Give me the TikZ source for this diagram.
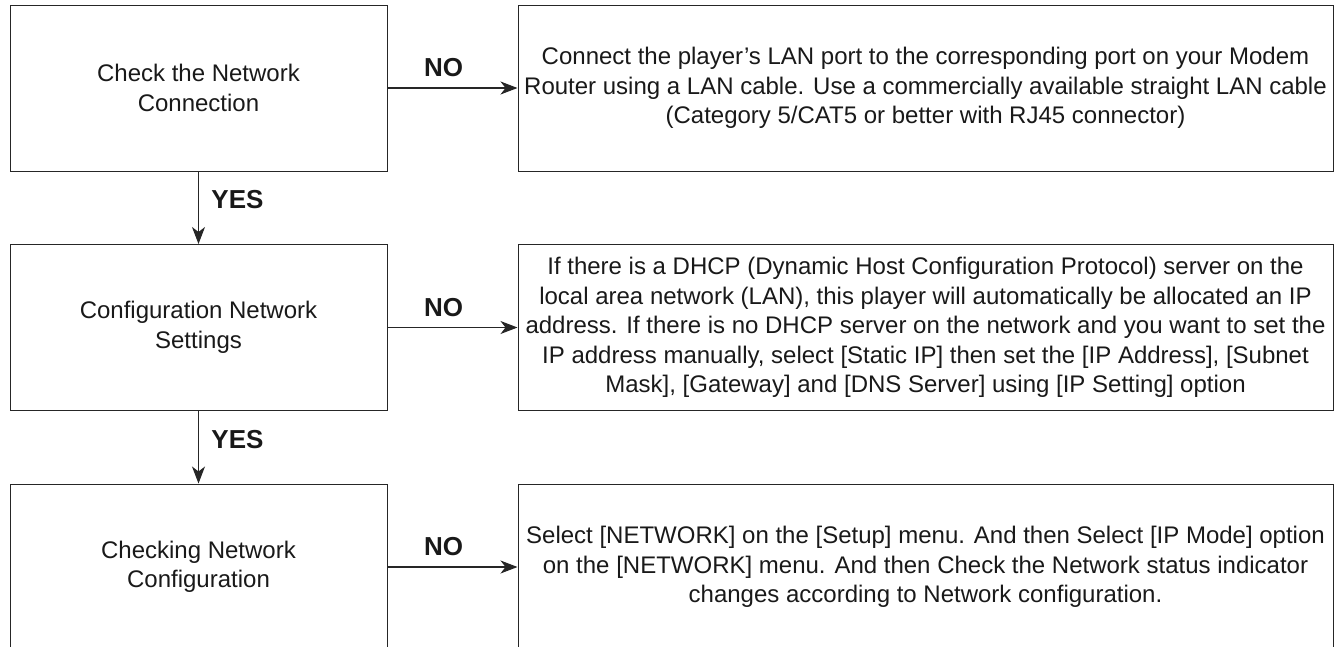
\documentclass[tikz,border=0pt]{standalone}
\usepackage{fontspec}
\setmainfont{Liberation Sans}
\usetikzlibrary{positioning,arrows.meta}

\begin{document}
\begin{tikzpicture}[
    x=1pt, y=-1pt,
    node distance=72.5pt and 130pt,
    stepbox/.style={
        draw=black!85,
        line width=1pt,
        minimum width=377pt,
        minimum height=166pt,
        inner sep=0pt,
        align=center,
        text=black!90,
        font=\fontsize{24}{29.5}\selectfont
    },
    actionbox/.style={stepbox, minimum width=815pt},
    answer/.style={text=black!90, font=\fontsize{26}{30}\selectfont\bfseries},
    arrow/.style={-{Stealth[length=17pt,width=13pt,inset=5pt]}, line width=1.1pt, draw=black!85}
]
\useasboundingbox (0,0) rectangle (1342,646);

% Checks on the left
\node[stepbox] (check) at (198.5,88) {Check the Network\\Connection};
\node[stepbox, below=of check] (config) {Configuration Network\\Settings};
\node[stepbox, below=of config] (status) {Checking Network\\Configuration};

% What to do on the right
\node[actionbox, right=of check] (fixconn) {Connect the player’s LAN port to the corresponding port on your Modem\\Router using a LAN cable. Use a commercially available straight LAN cable\\(Category 5/CAT5 or better with RJ45 connector)};
\node[actionbox, right=of config] (fixsettings) {If there is a DHCP (Dynamic Host Configuration Protocol) server on the\\local area network (LAN), this player will automatically be allocated an IP\\address. If there is no DHCP server on the network and you want to set the\\IP address manually, select [Static IP] then set the [IP Address], [Subnet\\Mask], [Gateway] and [DNS Server] using [IP Setting] option};
\node[actionbox, right=of status] (fixstatus) {Select [NETWORK] on the [Setup] menu. And then Select [IP Mode] option\\on the [NETWORK] menu. And then Check the Network status indicator\\changes according to Network configuration.};

% Arrows
\draw[arrow] (check) -- (fixconn) node[answer, midway, xshift=-9pt, yshift=20pt] (no1) {NO};
\draw[arrow] (config) -- (fixsettings) node[answer, midway, xshift=-9pt, yshift=20pt] (no2) {NO};
\draw[arrow] (status) -- (fixstatus) node[answer, midway, xshift=-9pt, yshift=20pt] (no3) {NO};
\draw[arrow] (check) -- (config) node[answer, midway, xshift=39pt, yshift=8pt] (yes1) {YES};
\draw[arrow] (config) -- (status) node[answer, midway, xshift=39pt, yshift=8pt] (yes2) {YES};

\end{tikzpicture}
\end{document}
